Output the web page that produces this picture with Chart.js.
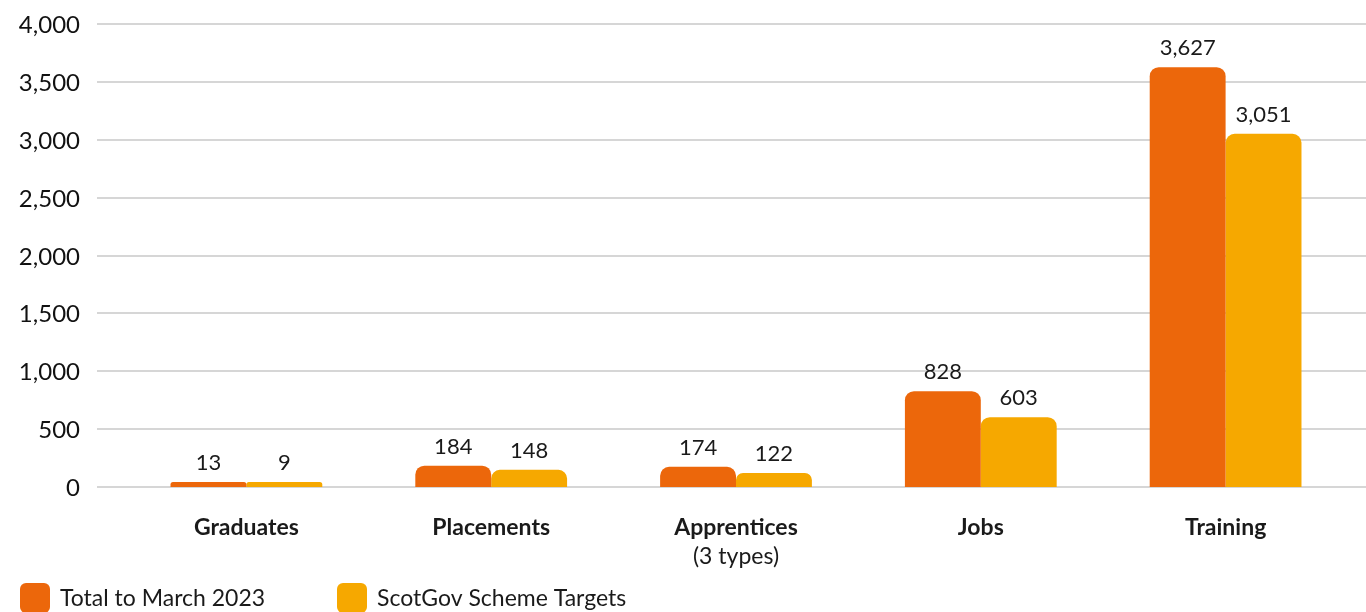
<!DOCTYPE html>
<html>
<head>
<meta charset="utf-8">
<script src="https://cdn.jsdelivr.net/npm/chart.js@4/dist/chart.umd.min.js"></script>
<style>
  html, body { margin: 0; padding: 0; background: #fff; }
  #wrap { width: 1366px; height: 612px; position: relative; }
</style>
</head>
<body>
<div id="wrap"><canvas id="myChart"></canvas></div>
<script>
// categories: first line bold, second line (if any) regular
var categories = ['Graduates', 'Placements', 'Apprentices', 'Jobs', 'Training'];
var subLabels = ['', '', '(3 types)', '', ''];
var totalToMarch = [13, 184, 174, 828, 3627];
var schemeTargets = [9, 148, 122, 603, 3051];
var seriesNames = ['Total to March 2023', 'ScotGov Scheme Targets'];
var yTicks = [0, 500, 1000, 1500, 2000, 2500, 3000, 3500, 4000];

var orange = '#ec670b';
var yellow = '#f6a800';
var fontName = 'Lato, "Open Sans", sans-serif';

// grid lines + y labels, drawn from the y scale so lines run past the plot area
var gridPlugin = {
    id: 'gridLines',
    beforeDatasetsDraw: function(chart) {
        var ctx = chart.ctx;
        var y = chart.scales.y;
        ctx.save();
        ctx.strokeStyle = '#d6d6d6';
        ctx.lineWidth = 2;
        ctx.fillStyle = '#111';
        ctx.font = '24px ' + fontName;
        ctx.textAlign = 'right';
        ctx.textBaseline = 'middle';
        yTicks.forEach(function(v) {
            var py = Math.round(y.getPixelForValue(v));
            ctx.beginPath();
            ctx.moveTo(97, py);
            ctx.lineTo(chart.width, py);
            ctx.stroke();
            ctx.fillText(v.toLocaleString('en-GB'), 80, py + 1);
        });
        ctx.restore();
    }
};

// value labels, category labels and legend
var labelPlugin = {
    id: 'labels',
    afterDraw: function(chart) {
        var ctx = chart.ctx;
        var x = chart.scales.x;
        ctx.save();
        ctx.textAlign = 'center';
        ctx.textBaseline = 'middle';
        ctx.fillStyle = '#1a1a1a';
        ctx.font = '22px ' + fontName;
        chart.data.datasets.forEach(function(ds, di) {
            chart.getDatasetMeta(di).data.forEach(function(bar, i) {
                ctx.fillText(ds.data[i].toLocaleString('en-GB'), bar.x, bar.y - 19);
            });
        });
        categories.forEach(function(c, i) {
            var px = x.getPixelForTick(i);
            ctx.font = 'bold 23px ' + fontName;
            ctx.fillText(c, px, chart.chartArea.bottom + 41);
            if (subLabels[i]) {
                ctx.font = '23px ' + fontName;
                ctx.fillText(subLabels[i], px, chart.chartArea.bottom + 70);
            }
        });
        // legend
        var lx = [20, 337];
        ctx.textAlign = 'left';
        ctx.font = '23px ' + fontName;
        chart.data.datasets.forEach(function(ds, di) {
            ctx.fillStyle = ds.backgroundColor;
            ctx.beginPath();
            ctx.roundRect(lx[di], 583, 30, 30, 6);
            ctx.fill();
            ctx.fillStyle = '#1a1a1a';
            ctx.fillText(seriesNames[di], lx[di] + 40, 599);
        });
        ctx.restore();
    }
};

const ctx = document.getElementById('myChart');
const myChart = new Chart(ctx, {
    type: 'bar',
    data: {
        labels: categories,
        datasets: [{
            label: seriesNames[0],
            data: totalToMarch,
            backgroundColor: orange,
            borderRadius: { topLeft: 9, topRight: 9 },
            borderSkipped: 'bottom'
        }, {
            label: seriesNames[1],
            data: schemeTargets,
            backgroundColor: yellow,
            borderRadius: { topLeft: 9, topRight: 9 },
            borderSkipped: 'bottom'
        }]
    },
    options: {
        responsive: true,
        maintainAspectRatio: false,
        animation: false,
        layout: { padding: { top: 24, right: 18, bottom: 125, left: 0 } },
        datasets: {
            bar: { categoryPercentage: 0.62, barPercentage: 1.0, minBarLength: 5 }
        },
        plugins: {
            legend: { display: false },
            tooltip: { enabled: false }
        },
        scales: {
            x: {
                display: false
            },
            y: {
                min: 0,
                max: 4000,
                afterFit: function(s) { s.width = 124; },
                grid: { display: false, drawTicks: false },
                border: { display: false },
                ticks: { display: false }
            }
        }
    },
    plugins: [gridPlugin, labelPlugin]
});
</script>
</body>
</html>
